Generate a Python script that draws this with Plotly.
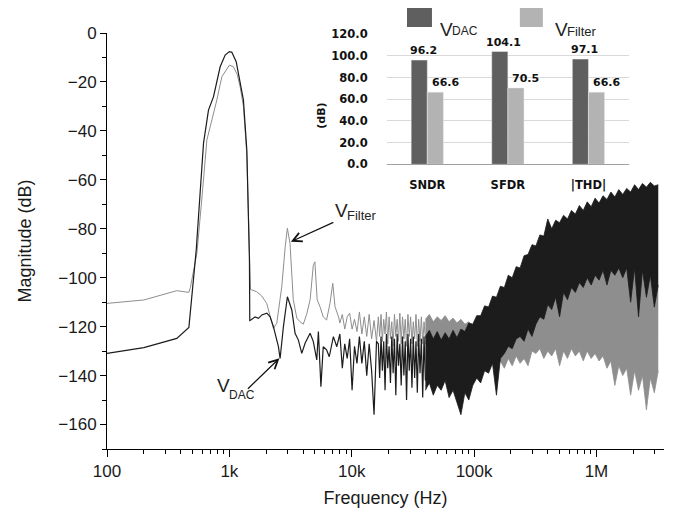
import numpy as np
import plotly.graph_objects as go

# ---------------- main spectrum data ----------------
# low-frequency part (read point by point)
dac_f_low = [100, 200, 372, 467, 536, 577, 615, 675, 742, 841, 924, 1000, 1048, 1137, 1225, 1303, 1389, 1459,
             1468, 1498, 1624, 1729, 1842, 2024, 2154, 2291, 2517, 2598, 2765, 2981, 3237, 3444, 3665, 3907,
             4157, 4566, 4850, 5180, 5340, 5600, 5850, 6230, 6550, 7080, 7550]
dac_db_low = [-130.9, -128.6, -124.8, -120.3, -88.7, -62.8, -45.0, -31.5, -26.0, -13.8, -9.0, -7.6, -7.9, -11.7,
              -20.6, -27.4, -47.8, -92.8, -117.5, -117.3, -116.0, -116.6, -115.2, -114.5, -116.0, -120.0, -128.2,
              -133.0, -120.0, -107.8, -113.2, -122.7, -125.5, -130.9, -126.8, -122.7, -126.0, -133.6, -122.0,
              -144.5, -128.2, -129.5, -132.3, -124.1, -128.2]

filt_f_low = [100, 200, 372, 467, 480, 543, 600, 655, 790, 868, 1002, 1080, 1160, 1225, 1303, 1389, 1459, 1490,
              1670, 1840, 2020, 2150, 2290, 2440, 2680, 2860, 2980, 3130, 3330, 3560, 3780, 4020, 4280, 4570,
              4850, 5000, 5220, 5500, 5850, 6230, 6640, 7000, 7300, 7800]
filt_db_low = [-110.5, -109.1, -105.3, -106.0, -104.0, -90.0, -66.0, -43.7, -27.4, -17.9, -13.1, -13.8, -17.0,
               -22.0, -30.0, -50.0, -90.0, -104.8, -105.7, -107.5, -110.5, -116.0, -120.7, -118.6, -103.7, -87.3,
               -79.8, -86.0, -109.0, -116.5, -118.0, -119.0, -115.0, -109.0, -95.0, -93.5, -109.0, -111.8, -116.0,
               -117.3, -110.5, -102.3, -111.8, -116.0]

# 8k..16k (sample grid)
mid1_f = np.geomspace(8000, 15940, 16)
dac_db_mid1 = [-123, -137, -127, -133, -125, -146, -128, -135, -124, -135, -126, -140, -127, -138, -156, -126]
filt_db_mid1 = [-118.5, -115, -121, -116, -114.5, -121, -117, -122, -114, -123, -116, -124, -115, -125, -117.5,
                -126]
# 16.5k..40k (denser)
mid2_f = np.geomspace(16500, 40000, 36)
dac_db_mid2 = [-127, -141, -124, -138, -126, -146, -123, -137, -128, -143, -124, -139, -125, -148, -123, -136,
               -127, -144, -124, -140, -126, -150, -123, -138, -125, -145, -124, -141, -126, -147, -123, -139,
               -125, -149, -124, -142]
filt_db_mid2 = [-116, -124, -115, -126, -117, -123, -114, -127, -116, -125, -118, -128, -115, -124, -117, -126,
                -114.5, -127, -116, -125, -117, -128, -115, -124, -116, -127, -118, -125, -115, -128, -117, -126,
                -116, -127, -118, -125]

# dense high-frequency part 40k..3.2M: upper / lower envelopes of the noise band
hi_f = np.geomspace(40000, 3.2e6, 60)
dac_hi_top = [-124, -121.5, -125, -122, -125.5, -122.5, -125, -121.5, -124.5, -121, -122, -118.5, -119, -115.5,
              -115.5, -111.5, -112, -107.5, -108, -103.5, -104, -99, -100, -95.5, -96, -91, -90.5, -86.5, -87,
              -82.5, -83, -76, -80, -76.5, -77.5, -74.5, -76, -72.5, -74, -70.5, -72.5, -69, -71, -67.5, -69.5,
              -66.5, -68, -65, -67, -64, -66, -63.5, -65, -62, -64, -61.5, -63, -61, -62.5, -62]
dac_hi_bot = [-146, -143, -148, -144, -146, -142, -149, -146, -151, -156, -147, -150, -144, -141, -143, -138,
              -139, -135, -148, -133, -131, -128, -129, -125, -124, -126, -121, -124, -119, -116, -117, -111,
              -113, -108, -116, -106, -109, -104, -106, -102, -104, -100, -103, -99, -101, -97, -103, -97, -99,
              -96, -100, -96, -110, -96, -116, -97, -108, -99, -112, -103]
filt_hi_top = [-117, -115, -118, -116, -117.5, -115.5, -118, -116.5, -118.5, -117, -119, -118, -120, -120, -121,
               -121, -120, -119, -118, -117, -116, -115, -114, -113, -112, -111, -110, -109, -108, -107, -106,
               -104, -103, -102, -101, -100, -100, -99, -98, -98, -97, -97, -96, -96, -95, -95, -94, -94, -94,
               -93, -93, -93, -93, -93, -94, -96, -98, -100, -102, -104]
filt_hi_bot = [-127, -125, -128, -126, -128, -125, -128, -126, -129, -127, -130, -128, -131, -130, -134, -132,
               -137, -135, -138, -134, -137, -133, -136, -132, -135, -133, -136, -130, -131, -129, -133, -130,
               -132, -129, -136, -130, -133, -129, -132, -130, -134, -130, -133, -131, -134, -132, -137, -134,
               -144, -136, -140, -137, -148, -138, -146, -140, -154, -141, -147, -138]

# axis ticks
x_tickvals = [100, 1000, 10000, 100000, 1000000]
x_ticktext = ["100", "1k", "10k", "100k", "1M"]

# ---------------- inset bar data ----------------
inset_cats = ["SNDR", "SFDR", "|THD|"]
inset_dac = [96.2, 104.1, 97.1]
inset_filter = [66.6, 70.5, 66.6]

BLACK = "#1c1c1c"
GRAY = "#8e8e8e"
DARKBAR = "#5f5f5f"
LIGHTBAR = "#b3b3b3"
LBL = "Liberation Sans, Arial, sans-serif"

fig = go.Figure()

# gray (V_Filter)
fig.add_trace(go.Scatter(x=list(filt_f_low) + list(mid1_f) + list(mid2_f),
                         y=filt_db_low + filt_db_mid1 + filt_db_mid2, mode="lines",
                         line=dict(color=GRAY, width=1), hoverinfo="skip"))
fig.add_trace(go.Scatter(x=hi_f, y=filt_hi_top, mode="lines", line=dict(color=GRAY, width=0.8), hoverinfo="skip"))
fig.add_trace(go.Scatter(x=hi_f, y=filt_hi_bot, mode="lines", line=dict(color=GRAY, width=0.8),
                         fill="tonexty", fillcolor=GRAY, hoverinfo="skip"))
# black (V_DAC)
fig.add_trace(go.Scatter(x=list(dac_f_low) + list(mid1_f) + list(mid2_f),
                         y=dac_db_low + dac_db_mid1 + dac_db_mid2, mode="lines",
                         line=dict(color=BLACK, width=1.2), hoverinfo="skip"))
fig.add_trace(go.Scatter(x=hi_f, y=dac_hi_top, mode="lines", line=dict(color=BLACK, width=0.8), hoverinfo="skip"))
fig.add_trace(go.Scatter(x=hi_f, y=dac_hi_bot, mode="lines", line=dict(color=BLACK, width=0.8),
                         fill="tonexty", fillcolor=BLACK, hoverinfo="skip"))

# inset bars
fig.add_trace(go.Bar(x=inset_cats, y=inset_dac, marker_color=DARKBAR, xaxis="x2", yaxis="y2", hoverinfo="skip"))
fig.add_trace(go.Bar(x=inset_cats, y=inset_filter, marker_color=LIGHTBAR, xaxis="x2", yaxis="y2", hoverinfo="skip"))

minor_x = [m * 10 ** d for d in range(2, 7) for m in range(2, 10) if m * 10 ** d < 3.6e6]

fig.update_layout(
    width=673, height=516,
    margin=dict(l=107, r=9, t=33, b=67),
    paper_bgcolor="white", plot_bgcolor="white",
    showlegend=False,
    font=dict(family="Liberation Sans, Arial, sans-serif", color="#1a1a1a"),
    barmode="group", bargap=0.6, bargroupgap=0,
    xaxis=dict(type="log", range=[2, 6.552], tickmode="array", tickvals=x_tickvals, ticktext=x_ticktext,
               ticks="outside", ticklen=7, tickwidth=1, tickcolor="black", automargin=False,
               minor=dict(tickmode="array", tickvals=minor_x, ticks="outside", ticklen=4, tickcolor="black"),
               showline=True, linecolor="black", linewidth=1, showgrid=False, zeroline=False,
               tickfont=dict(size=17),
               title=dict(text="Frequency (Hz)", font=dict(size=18), standoff=10)),
    yaxis=dict(range=[-170, 0], tick0=0, dtick=20, ticks="outside", ticklen=6, tickcolor="black",
               automargin=False,
               minor=dict(dtick=10, ticks="outside", ticklen=4, tickcolor="black"),
               showline=True, linecolor="black", linewidth=1, showgrid=False, zeroline=False,
               tickfont=dict(size=17),
               title=dict(text="Magnitude (dB)", font=dict(size=18), standoff=22)),
    xaxis2=dict(domain=[0.5027, 0.9367], anchor="y2", type="category", automargin=False,
                showline=True, linecolor="#a0a0a0", linewidth=1, showgrid=False, zeroline=False,
                ticks="outside", ticklen=10, tickcolor="rgba(0,0,0,0)",
                tickfont=dict(family="DejaVu Sans", size=11.5, weight="bold", color="#111")),
    yaxis2=dict(domain=[0.6844, 0.9969], anchor="x2", range=[0, 120], tick0=0, dtick=20, tickformat=".1f",
                automargin=False,
                showline=False, showgrid=True, gridcolor="#d9d9d9", gridwidth=1, zeroline=False,
                ticks="outside", ticklen=16, tickcolor="rgba(0,0,0,0)",
                tickfont=dict(family="DejaVu Sans", size=11.5, weight="bold", color="#111")),
)

annots = []
# value labels on bars
for c, v in zip(inset_cats, inset_dac):
    annots.append(dict(x=c, y=v, xref="x2", yref="y2", text=f"{v:.1f}", showarrow=False, yanchor="bottom",
                       xshift=-4, yshift=1, font=dict(family="DejaVu Sans", size=11, weight="bold", color="#111")))
for c, v in zip(inset_cats, inset_filter):
    annots.append(dict(x=c, y=v, xref="x2", yref="y2", text=f"{v:.1f}", showarrow=False, yanchor="bottom",
                       xshift=18, yshift=1, font=dict(family="DejaVu Sans", size=11, weight="bold", color="#111")))
# (dB) label of inset
annots.append(dict(x=0.3861, y=0.8373, xref="paper", yref="paper", text="(dB)", textangle=-90, showarrow=False,
                   font=dict(family="DejaVu Sans", size=11, weight="bold", color="#111")))
# inset legend texts
annots += [
    dict(x=0.5945, y=1.0373, xref="paper", yref="paper", text="V", xanchor="left", showarrow=False,
         font=dict(family=LBL, size=19, color="#222")),
    dict(x=0.6160, y=1.0265, xref="paper", yref="paper", text="DAC", xanchor="left", showarrow=False,
         font=dict(family=LBL, size=12, color="#222")),
    dict(x=0.8005, y=1.0373, xref="paper", yref="paper", text="V", xanchor="left", showarrow=False,
         font=dict(family=LBL, size=19, color="#222")),
    dict(x=0.8220, y=1.0265, xref="paper", yref="paper", text="Filter", xanchor="left", showarrow=False,
         font=dict(family=LBL, size=13, color="#222")),
]
# main plot labels
annots += [
    dict(x=0.4050, y=0.5733, xref="paper", yref="paper", text="V", xanchor="left", showarrow=False,
         font=dict(family=LBL, size=19, color="#222")),
    dict(x=0.4270, y=0.5610, xref="paper", yref="paper", text="Filter", xanchor="left", showarrow=False,
         font=dict(family=LBL, size=13, color="#222")),
    dict(x=0.1930, y=0.1219, xref="paper", yref="paper", text="V", xanchor="left", showarrow=False,
         font=dict(family=LBL, size=19, color="#222")),
    dict(x=0.2150, y=0.1090, xref="paper", yref="paper", text="DAC", xanchor="left", showarrow=False,
         font=dict(family=LBL, size=12, color="#222")),
]
# arrows
annots += [
    dict(x=np.log10(3180), y=-85.3, xref="x", yref="y", text="", showarrow=True, ax=44, ay=-20,
         arrowhead=5, arrowsize=1.5, arrowwidth=1.2, arrowcolor="#111", standoff=0),
    dict(x=np.log10(2565), y=-132.9, xref="x", yref="y", text="", showarrow=True, ax=-33, ay=32,
         arrowhead=5, arrowsize=1.5, arrowwidth=1.2, arrowcolor="#111", standoff=0),
]
fig.update_layout(annotations=annots)

# legend swatches for the inset
fig.add_shape(type="rect", xref="paper", yref="paper", x0=0.5386, x1=0.5834, y0=1.0144, y1=1.0601,
              fillcolor=DARKBAR, line=dict(width=0))
fig.add_shape(type="rect", xref="paper", yref="paper", x0=0.7412, x1=0.7825, y0=1.0144, y1=1.0601,
              fillcolor=LIGHTBAR, line=dict(width=0))

fig.write_html("out.html", config={"displayModeBar": False},
               post_script="document.body.style.margin='0';document.body.style.padding='0';")
